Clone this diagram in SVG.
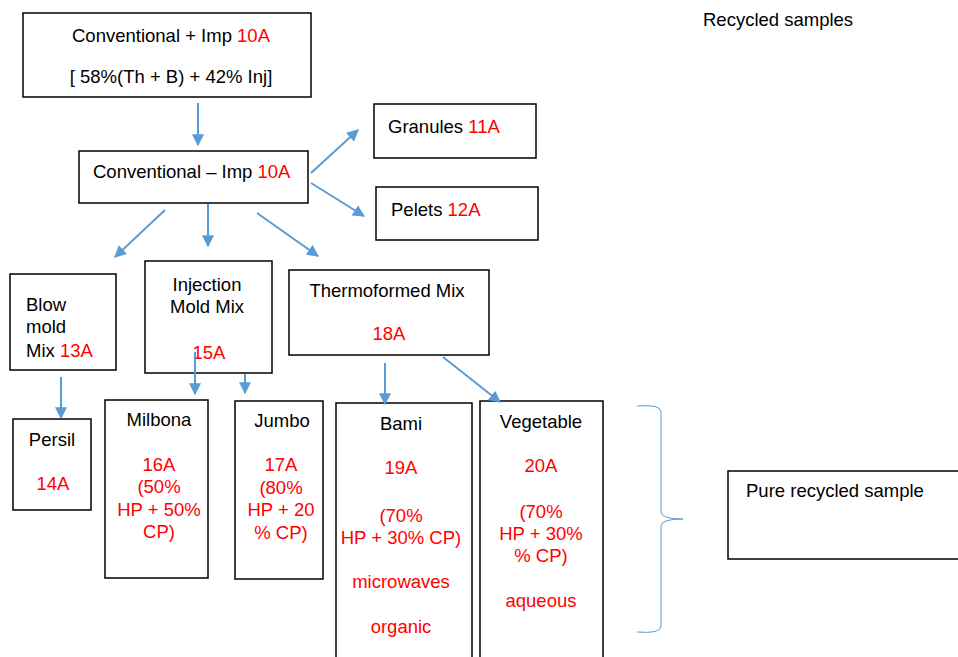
<svg xmlns="http://www.w3.org/2000/svg" width="958" height="657" viewBox="0 0 958 657">
<style>
.box{fill:#fff;stroke:#000;stroke-width:1.5}
text{font-family:"Liberation Sans",Arial,sans-serif;font-size:18.5px;fill:#000}
.r{fill:#f00}
.c{text-anchor:middle}
.conn line{stroke:#5B9BD5;stroke-width:2;marker-end:url(#ah)}
</style>
<defs>
<marker id="ah" viewBox="0 0 10 10" refX="9" refY="5" markerWidth="6" markerHeight="6" orient="auto" markerUnits="strokeWidth">
<path d="M0,0 L10,5 L0,10 z" fill="#5B9BD5"/>
</marker>
</defs>
<rect width="958" height="657" fill="#fff"/>
<text x="703" y="26">Recycled samples</text>

<g id="n-conv-plus">
<rect class="box" x="23" y="13" width="288" height="84"/>
<text x="171" y="42" class="c">Conventional + Imp <tspan class="r">10A</tspan></text>
<text x="171" y="83" class="c">[ 58%(Th + B) + 42% Inj]</text>
</g>
<g id="n-conv-minus">
<rect class="box" x="79" y="151" width="229" height="52"/>
<text x="93" y="178">Conventional – Imp <tspan class="r">10A</tspan></text>
</g>
<g id="n-granules">
<rect class="box" x="374" y="104" width="162" height="54"/>
<text x="388" y="133">Granules <tspan class="r">11A</tspan></text>
</g>
<g id="n-pelets">
<rect class="box" x="376" y="187" width="162" height="53"/>
<text x="391" y="216">Pelets <tspan class="r">12A</tspan></text>
</g>
<g id="n-blow">
<rect class="box" x="10" y="274" width="106" height="96"/>
<text x="26" y="311">Blow</text>
<text x="26" y="333">mold</text>
<text x="26" y="357">Mix <tspan class="r">13A</tspan></text>
</g>
<g id="n-injection">
<rect class="box" x="145" y="261" width="127" height="112"/>
<text x="207" y="291" class="c">Injection</text>
<text x="207" y="313" class="c">Mold Mix</text>
<text x="209" y="359" class="c r">15A</text>
</g>
<g id="n-thermo">
<rect class="box" x="289" y="270" width="200" height="85"/>
<text x="387" y="297" class="c">Thermoformed Mix</text>
<text x="389" y="340" class="c r">18A</text>
</g>
<g id="n-persil">
<rect class="box" x="13" y="419" width="78" height="91"/>
<text x="52" y="446" class="c">Persil</text>
<text x="53" y="490" class="c r">14A</text>
</g>
<g id="n-milbona">
<rect class="box" x="105" y="400" width="103" height="178"/>
<text x="159" y="426" class="c">Milbona</text>
<text x="159" y="471" class="c r">16A</text>
<text x="159" y="493" class="c r">(50%</text>
<text x="159" y="516" class="c r">HP + 50%</text>
<text x="159" y="538" class="c r">CP)</text>
</g>
<g id="n-jumbo">
<rect class="box" x="235" y="401" width="88" height="178"/>
<text x="282" y="427" class="c">Jumbo</text>
<text x="281" y="471" class="c r">17A</text>
<text x="281" y="494" class="c r">(80%</text>
<text x="281" y="516" class="c r">HP + 20</text>
<text x="281" y="539" class="c r">% CP)</text>
</g>
<g id="n-bami">
<rect class="box" x="336" y="403" width="136" height="260"/>
<text x="401" y="430" class="c">Bami</text>
<text x="401" y="474" class="c r">19A</text>
<text x="401" y="522" class="c r">(70%</text>
<text x="401" y="544" class="c r">HP + 30% CP)</text>
<text x="401" y="588" class="c r">microwaves</text>
<text x="401" y="633" class="c r">organic</text>
</g>
<g id="n-vegetable">
<rect class="box" x="480" y="401" width="123" height="262"/>
<text x="541" y="428" class="c">Vegetable</text>
<text x="541" y="472" class="c r">20A</text>
<text x="541" y="518" class="c r">(70%</text>
<text x="541" y="540" class="c r">HP + 30%</text>
<text x="541" y="562" class="c r">% CP)</text>
<text x="541" y="607" class="c r">aqueous</text>
</g>
<g id="n-pure">
<rect class="box" x="728" y="471" width="240" height="88"/>
<text x="746" y="497">Pure recycled sample</text>
</g>

<g id="brace">
<path d="M637,406 Q661,404 661,412 L661,512 Q661,519 683,519 Q661,519 661,526 L661,626 Q661,634 637,632" fill="none" stroke="#5B9BD5" stroke-width="1"/>
</g>

<g class="conn" id="connectors">
<line x1="198" y1="103" x2="198" y2="145"/>
<line x1="311" y1="173" x2="358" y2="130"/>
<line x1="311" y1="183" x2="364" y2="216"/>
<line x1="165" y1="210" x2="115" y2="257"/>
<line x1="208" y1="204" x2="208" y2="246"/>
<line x1="257" y1="213" x2="318" y2="256"/>
<line x1="61" y1="377" x2="61" y2="418"/>
<line x1="195" y1="352" x2="195" y2="394"/>
<line x1="245" y1="374" x2="245" y2="393"/>
<line x1="385" y1="363" x2="385" y2="404"/>
<line x1="443" y1="357" x2="500" y2="402"/>
</g>
</svg>
